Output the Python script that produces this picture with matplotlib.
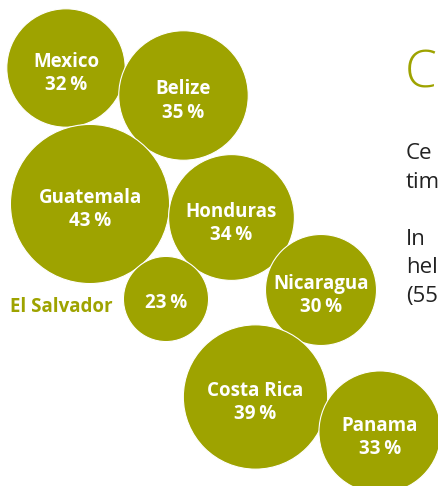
import matplotlib
matplotlib.use('Agg')
import matplotlib.pyplot as plt
from matplotlib.patches import Circle

# share of each country (percent) -> bubble size
countries = ['Mexico', 'Belize', 'Guatemala', 'Honduras', 'El Salvador',
             'Nicaragua', 'Costa Rica', 'Panama']
shares = [32, 35, 43, 34, 23, 30, 39, 33]
# bubble layout (pixel coordinates of the centres)
pos_x = [66, 183.5, 90, 231.5, 166, 321, 255.5, 380]
pos_y = [68, 95.5, 204, 217.5, 299, 290, 397, 432]

side_lines = ['Ce', 'tim', '', 'In', 'hel', '(55']

olive = '#9ea300'
k = 1.85  # radius in px per percentage point

fig = plt.figure(figsize=(4.38, 4.86), dpi=100)
ax = fig.add_axes([0, 0, 1, 1])
ax.set_xlim(0, 438)
ax.set_ylim(486, 0)
ax.axis('off')

lab_font = ['Open Sans', 'DejaVu Sans']
fs = 13.5

for name, v, x, y in zip(countries, shares, pos_x, pos_y):
    ax.add_patch(Circle((x, y), v * k, facecolor=olive, edgecolor='white', lw=0.8))
    pct = '%d\u2009%%' % v
    if name == 'El Salvador':
        ax.text(x, y + 9, pct, color='white', fontsize=fs, fontweight='bold',
                family=lab_font, ha='center', va='baseline')
        ax.text(x - v * k - 11, y + 13, name, color=olive, fontsize=fs, fontweight='bold',
                family=lab_font, ha='right', va='baseline')
    else:
        ax.text(x, y - 1, name, color='white', fontsize=fs, fontweight='bold',
                family=lab_font, ha='center', va='baseline')
        ax.text(x, y + 22, pct, color='white', fontsize=fs, fontweight='bold',
                family=lab_font, ha='center', va='baseline')

# cut-off text block on the right (it runs off the page in the original too)
ax.text(405, 87, 'C', color=olive, fontsize=37, fontweight='light', family=lab_font,
        va='baseline')
for i, line in enumerate(side_lines):
    ax.text(406, 159 + i * 28.5, line, color='#222222', fontsize=16, family=lab_font,
            va='baseline')

plt.savefig('out.png', dpi=100)
